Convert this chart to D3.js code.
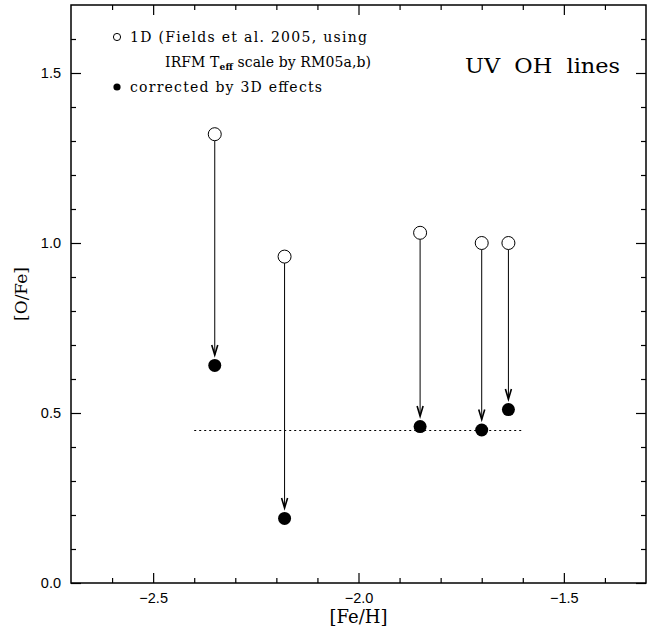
<!DOCTYPE html>
<html>
<head>
<meta charset="utf-8">
<script src="https://cdn.jsdelivr.net/npm/d3@7"></script>
<style>
  body { margin: 0; background: #fff; }
  text { fill: #000; }
</style>
</head>
<body>
<svg id="chart"></svg>
<script>
// metallicity of each star, and [O/Fe] from UV OH lines
var feh = [-2.35, -2.18, -1.85, -1.70, -1.635]
var ofe_1d = [1.32, 0.96, 1.03, 1.00, 1.00]
var ofe_3d = [0.64, 0.19, 0.46, 0.45, 0.51]

// mean level of the corrected values
var plateau = 0.45
var plateau_range = [-2.4, -1.6]

var x_major = [-2.5, -2.0, -1.5]
var x_minor = [-2.6, -2.4, -2.3, -2.2, -2.1, -1.9, -1.8, -1.7, -1.6, -1.4]
var y_major = [0.0, 0.5, 1.0, 1.5]
var y_minor = [0.1, 0.2, 0.3, 0.4, 0.6, 0.7, 0.8, 0.9, 1.1, 1.2, 1.3, 1.4, 1.6]

var width = 647
var height = 631
var margin = ({top: 5, right: 1, bottom: 48, left: 71})

var x = d3.scaleLinear()
	.domain([-2.7, -1.3])
	.range([margin.left, width - margin.right])

var y = d3.scaleLinear()
	.domain([0, 1.7])
	.range([height - margin.bottom, margin.top])

var svg = d3.select("#chart")
	.attr("width", width)
	.attr("height", height)
	.attr("viewBox", [0, 0, width, height])

var tickFont = "'Liberation Sans', Arial, sans-serif"
var serif = "'DejaVu Serif', 'Liberation Serif', serif"
var fmt = d => d3.format(".1f")(d).replace("-", "\u2212")

function styleAxis(g) {
	g.select(".domain").remove()
	g.selectAll(".tick line").attr("stroke", "#000").attr("stroke-width", 1.2)
	g.selectAll(".tick text").attr("font-family", tickFont).attr("font-size", 14.5).attr("fill", "#000")
}

// bottom
svg.append("g")
	.attr("transform", `translate(0,${y(0)})`)
	.call(d3.axisBottom(x).tickValues(x_major).tickSize(-10).tickPadding(10).tickFormat(fmt))
	.call(styleAxis)
svg.append("g")
	.attr("transform", `translate(0,${y(0)})`)
	.call(d3.axisBottom(x).tickValues(x_minor).tickSize(-5).tickFormat(""))
	.call(styleAxis)

// top
svg.append("g")
	.attr("transform", `translate(0,${y(1.7)})`)
	.call(d3.axisTop(x).tickValues(x_major).tickSize(-10).tickFormat(""))
	.call(styleAxis)
svg.append("g")
	.attr("transform", `translate(0,${y(1.7)})`)
	.call(d3.axisTop(x).tickValues(x_minor).tickSize(-5).tickFormat(""))
	.call(styleAxis)

// left
svg.append("g")
	.attr("transform", `translate(${x(-2.7)},0)`)
	.call(d3.axisLeft(y).tickValues(y_major).tickSize(-10).tickPadding(10).tickFormat(fmt))
	.call(styleAxis)
svg.append("g")
	.attr("transform", `translate(${x(-2.7)},0)`)
	.call(d3.axisLeft(y).tickValues(y_minor).tickSize(-5).tickFormat(""))
	.call(styleAxis)

// right
svg.append("g")
	.attr("transform", `translate(${x(-1.3)},0)`)
	.call(d3.axisRight(y).tickValues(y_major).tickSize(-10).tickFormat(""))
	.call(styleAxis)
svg.append("g")
	.attr("transform", `translate(${x(-1.3)},0)`)
	.call(d3.axisRight(y).tickValues(y_minor).tickSize(-5).tickFormat(""))
	.call(styleAxis)

// frame
svg.append("rect")
	.attr("x", x(-2.7))
	.attr("y", y(1.7))
	.attr("width", x(-1.3) - x(-2.7))
	.attr("height", y(0) - y(1.7))
	.attr("fill", "none")
	.attr("stroke", "#000")
	.attr("stroke-width", 1.5)

// plateau line
svg.append("line")
	.attr("x1", x(plateau_range[0]))
	.attr("x2", x(plateau_range[1]))
	.attr("y1", Math.round(y(plateau)) + 0.5)
	.attr("y2", Math.round(y(plateau)) + 0.5)
	.attr("stroke", "#000")
	.attr("stroke-width", 1.2)
	.attr("stroke-dasharray", "2,3")

var r = 6.5
var stars = feh.map((d, i) => ({"feh": d, "a": ofe_1d[i], "b": ofe_3d[i]}))

// arrows from 1D to 3D
stars.forEach(s => {
	var cx = x(s.feh)
	var top = y(s.a) + r
	var tip = y(s.b) - r - 4
	svg.append("line")
		.attr("x1", cx).attr("x2", cx)
		.attr("y1", top).attr("y2", tip)
		.attr("stroke", "#000").attr("stroke-width", 1)
	svg.append("path")
		.attr("d", `M${cx - 3},${tip - 10} L${cx},${tip} L${cx + 3},${tip - 10}`)
		.attr("fill", "none")
		.attr("stroke", "#000")
		.attr("stroke-width", 1.6)
		.attr("stroke-linejoin", "miter")
})

svg.selectAll(".open")
	.data(stars)
	.join("circle")
	.attr("cx", d => x(d.feh))
	.attr("cy", d => y(d.a))
	.attr("r", r)
	.attr("fill", "#fff")
	.attr("stroke", "#000")
	.attr("stroke-width", 1)

svg.selectAll(".filled")
	.data(stars)
	.join("circle")
	.attr("cx", d => x(d.feh))
	.attr("cy", d => y(d.b))
	.attr("r", r)
	.attr("fill", "#000")

// legend
svg.append("circle")
	.attr("cx", 117).attr("cy", 37).attr("r", 3.6)
	.attr("fill", "none").attr("stroke", "#000").attr("stroke-width", 1)
svg.append("circle")
	.attr("cx", 117).attr("cy", 87).attr("r", 3.6)
	.attr("fill", "#000")

var leg = svg.append("g")
	.attr("font-family", serif)
	.attr("font-size", 14)
leg.append("text").attr("x", 130).attr("y", 42)
	.attr("textLength", 237).attr("lengthAdjust", "spacing")
	.text("1D (Fields et al. 2005, using")
var l2 = leg.append("text").attr("x", 165).attr("y", 67)
	.attr("textLength", 206).attr("lengthAdjust", "spacing")
l2.append("tspan").text("IRFM T")
l2.append("tspan").attr("font-size", 9).attr("font-weight", "bold").attr("dy", 3).text("eff")
l2.append("tspan").attr("dy", -3).text(" scale by RM05a,b)")
leg.append("text").attr("x", 130).attr("y", 92)
	.attr("textLength", 192).attr("lengthAdjust", "spacing")
	.text("corrected by 3D effects")

// title
svg.append("text")
	.attr("x", 465)
	.attr("y", 73)
	.attr("font-family", serif)
	.attr("font-size", 21)
	.attr("textLength", 155)
	.attr("lengthAdjust", "spacingAndGlyphs")
	.attr("xml:space", "preserve")
	.text("UV  OH  lines")

// axis labels
svg.append("text")
	.attr("x", x(-2.0))
	.attr("y", 623)
	.attr("text-anchor", "middle")
	.attr("font-family", serif)
	.attr("font-size", 18)
	.text("[Fe/H]")

svg.append("text")
	.attr("transform", `translate(27,${y(0.85)}) rotate(-90)`)
	.attr("text-anchor", "middle")
	.attr("font-family", serif)
	.attr("font-size", 17)
	.text("[O/Fe]")
</script>
</body>
</html>
